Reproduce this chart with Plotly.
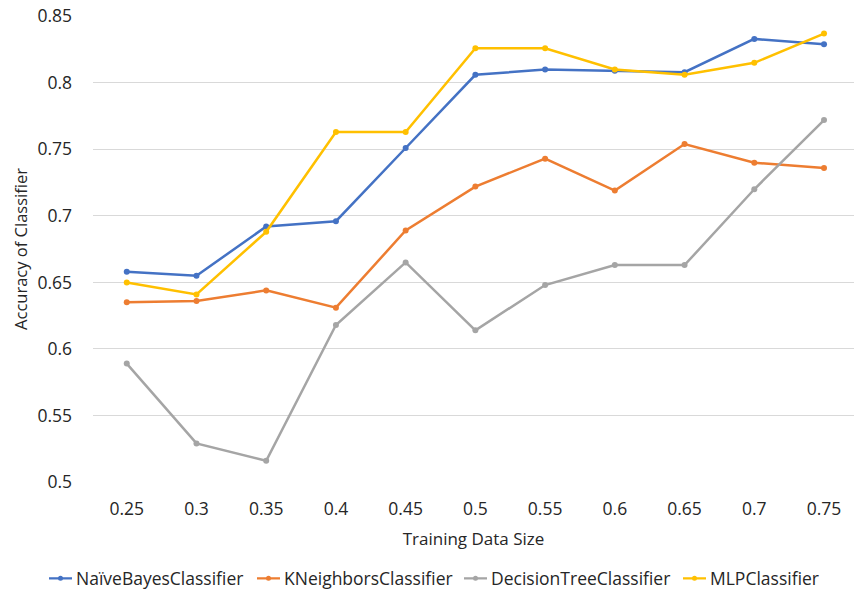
import plotly.graph_objects as go

sizes = [0.25, 0.3, 0.35, 0.4, 0.45, 0.5, 0.55, 0.6, 0.65, 0.7, 0.75]
tick_labels = ["0.25", "0.3", "0.35", "0.4", "0.45", "0.5", "0.55", "0.6", "0.65", "0.7", "0.75"]
y_ticks = [0.5, 0.55, 0.6, 0.65, 0.7, 0.75, 0.8, 0.85]
y_tick_labels = ["0.5", "0.55", "0.6", "0.65", "0.7", "0.75", "0.8", "0.85"]

naive_bayes = [0.658, 0.655, 0.692, 0.696, 0.751, 0.806, 0.810, 0.809, 0.808, 0.833, 0.829]
kneighbors = [0.635, 0.636, 0.644, 0.631, 0.689, 0.722, 0.743, 0.719, 0.754, 0.740, 0.736]
decision_tree = [0.589, 0.529, 0.516, 0.618, 0.665, 0.614, 0.648, 0.663, 0.663, 0.720, 0.772]
mlp = [0.650, 0.641, 0.688, 0.763, 0.763, 0.826, 0.826, 0.810, 0.806, 0.815, 0.837]

series_names = ["NaïveBayesClassifier", "KNeighborsClassifier", "DecisionTreeClassifier", "MLPClassifier"]
series_values = [naive_bayes, kneighbors, decision_tree, mlp]
series_colors = ["#4472C4", "#ED7D31", "#A5A5A5", "#FFC000"]

FONT = "Open Sans"
TXT = "#262626"

# figure geometry (body margin removed via post_script)
W, H = 854, 591
ML, MT, MB = 93, 16, 109.3
PW = W - ML
PH = H - MT - MB

fig = go.Figure()
for name, vals, color in zip(series_names, series_values, series_colors):
    fig.add_trace(go.Scatter(
        x=sizes, y=vals, name=name, mode="lines+markers",
        line=dict(color=color, width=2.5),
        marker=dict(color=color, size=6, symbol="circle"),
        showlegend=False, cliponaxis=False,
    ))

# manual legend (positions in page pixels, converted to paper coords)
legend_line_starts = [49, 257, 464, 683]
legend_y_px = 578
ly = (H - MB - legend_y_px) / PH
shapes = []
annotations = []
for name, color, sx in zip(series_names, series_colors, legend_line_starts):
    x0 = (sx - ML) / PW
    x1 = (sx + 23 - ML) / PW
    xm = (sx + 11.5 - ML) / PW
    shapes.append(dict(type="line", xref="paper", yref="paper", x0=x0, x1=x1, y0=ly, y1=ly,
                       line=dict(color=color, width=2.25)))
    shapes.append(dict(type="circle", xref="paper", yref="paper", xsizemode="pixel", ysizemode="pixel",
                       xanchor=xm, yanchor=ly, x0=-2.5, x1=2.5, y0=-2.5, y1=2.5,
                       fillcolor=color, line=dict(color=color, width=0)))
    annotations.append(dict(text=name, xref="paper", yref="paper", x=(sx + 25 - ML) / PW, y=ly,
                            xanchor="left", yanchor="middle", showarrow=False,
                            font=dict(family=FONT, size=17.5, color=TXT)))

fig.update_layout(
    width=W, height=H,
    margin=dict(l=ML, r=0, t=MT, b=MB, autoexpand=False),
    paper_bgcolor="white", plot_bgcolor="white",
    font=dict(family=FONT, size=17, color=TXT),
    showlegend=False, hovermode=False,
    shapes=shapes, annotations=annotations,
)
fig.update_xaxes(
    range=[0.2258, 0.7715], tickmode="array", tickvals=sizes, ticktext=tick_labels,
    showgrid=False, zeroline=False, showline=False, ticks="", automargin=False,
    ticklabelstandoff=14, ticklabeloverflow="allow",
    tickfont=dict(size=17.5, color=TXT),
    title=dict(text="Training Data Size", font=dict(size=17, color=TXT), standoff=14),
)
fig.update_yaxes(
    range=[0.5, 0.8502], tickmode="array",
    tickvals=y_ticks, ticktext=y_tick_labels,
    showgrid=True, gridcolor="#D9D9D9", gridwidth=1, zeroline=False, showline=False,
    ticks="", ticklabelstandoff=20, automargin=False, ticklabeloverflow="allow",
    tickfont=dict(size=17.5, color=TXT),
    title=dict(text="Accuracy of Classifier", font=dict(size=16.5, color=TXT), standoff=5),
)

fig.write_html("out.html", config={"displayModeBar": False},
               post_script="document.body.style.margin='0';document.body.style.overflow='hidden';")
